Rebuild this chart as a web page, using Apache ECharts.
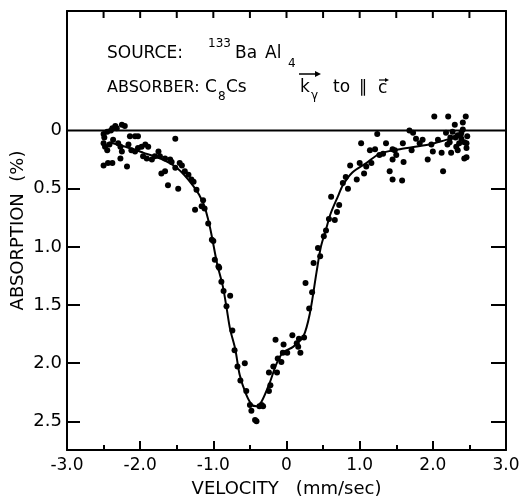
<!DOCTYPE html>
<html>
<head>
<meta charset="utf-8">
<script src="https://cdn.jsdelivr.net/npm/echarts@6.0.0/dist/echarts.min.js"></script>
<style>html,body{margin:0;padding:0;background:#fff;}#chart{width:524px;height:497px;}</style>
</head>
<body>
<div id="chart"></div>
<script>
// Measured points: velocity (mm/sec) and absorption (%)
const velocity = [
-2.50,-2.45,-2.38,-2.34,-2.25,-2.21,-2.50,-2.48,-2.45,-2.50,-2.44,-2.38,-2.30,-2.27,-2.25,-2.27,-2.18,-2.14,-2.07,-2.03,
-2.16,-2.12,-2.07,-2.03,-1.98,-1.93,-1.89,-1.96,-1.91,-1.84,-1.80,-1.75,-1.73,-1.66,-1.59,-1.52,-1.57,-1.52,-1.46,-1.43,
-1.39,-1.34,-1.30,-1.27,-1.23,-1.62,-1.48,-1.71,-1.66,-1.14,-1.16,-1.25,-1.12,-1.07,-1.02,-1.00,-0.98,-0.93,-0.92,-0.89,
-0.86,-0.77,-0.82,-0.74,-0.71,-0.67,-0.57,-0.63,-0.55,-0.50,-0.48,-0.43,-0.41,-0.37,-0.32,-0.34,-0.24,-0.22,-0.24,-0.18,
-0.13,-0.15,-0.07,-0.12,-0.05,-0.04,0.01,0.08,0.14,0.17,0.19,0.16,0.24,0.31,0.26,0.35,0.37,0.43,0.46,0.51,
0.54,0.58,0.66,0.69,0.72,0.61,0.77,0.81,0.84,0.96,0.87,1.00,1.06,1.09,1.16,1.02,1.14,1.21,1.27,1.32,
1.36,1.41,1.45,1.48,1.24,1.45,1.50,1.45,1.60,1.58,1.59,1.68,1.73,1.71,1.77,1.86,1.82,1.93,1.98,2.00,
2.12,2.14,2.07,2.18,2.23,2.27,2.34,2.39,2.43,2.46,2.25,2.34,2.43,2.46,2.36,2.32,2.41,2.02,2.21,2.45,
2.41,2.30,2.31,2.39,2.47,2.46,2.24,2.20,-2.49,-2.42,-2.40,-2.32,-2.37
];
const absorption = [
0.03,0.01,-0.02,-0.04,-0.05,-0.04,0.11,0.14,0.17,0.30,0.28,0.28,0.11,0.14,0.18,0.24,0.31,0.05,0.05,0.05,
0.12,0.17,0.18,0.15,0.14,0.12,0.14,0.22,0.24,0.25,0.22,0.18,0.22,0.24,0.25,0.07,0.27,0.32,0.28,0.30,
0.35,0.38,0.42,0.44,0.51,0.47,0.50,0.37,0.35,0.60,0.65,0.68,0.67,0.80,0.94,0.95,1.11,1.17,1.18,1.30,
1.38,1.42,1.51,1.72,1.89,2.03,2.00,2.15,2.24,2.36,2.41,2.49,2.50,2.37,2.37,2.36,2.24,2.19,2.08,2.03,
2.08,1.80,1.99,1.96,1.91,1.84,1.91,1.76,1.83,1.79,1.91,1.86,1.78,1.53,1.31,1.39,1.14,1.01,1.08,0.91,
0.86,0.76,0.77,0.70,0.64,0.57,0.45,0.40,0.50,0.42,0.30,0.28,0.37,0.31,0.28,0.11,0.17,0.16,0.21,0.20,
0.11,0.35,0.42,0.17,0.03,0.16,0.21,0.25,0.27,0.43,0.11,0.00,0.02,0.17,0.07,0.08,0.11,0.25,0.12,0.18,
0.19,0.35,0.08,0.02,0.10,0.01,0.04,0.07,0.10,0.15,0.19,0.17,0.24,0.23,0.11,0.14,-0.01,-0.12,-0.12,-0.12,
-0.07,-0.05,0.06,0.02,0.05,0.11,0.06,0.12,0.06,0.12,0.00,-0.02,0.08
];
// Fitted curve
const fitVelocity = [-2.42,-2.20,-1.96,-1.73,-1.50,-1.27,-1.14,-1.05,-0.95,-0.87,-0.82,-0.77,-0.70,-0.64,-0.55,-0.47,-0.41,-0.34,-0.23,-0.14,-0.05,0.09,0.23,0.32,0.41,0.47,0.54,0.60,0.70,0.77,0.90,1.09,1.27,1.55,1.95,2.18,2.42];
const fitAbsorption = [0.10,0.14,0.19,0.24,0.32,0.48,0.62,0.82,1.14,1.34,1.52,1.71,1.88,2.10,2.27,2.36,2.37,2.33,2.17,2.01,1.91,1.86,1.77,1.57,1.22,1.00,0.85,0.72,0.57,0.47,0.36,0.28,0.20,0.16,0.12,0.08,0.04];
// Baseline
const baselineVelocity = [-3.0, 3.0];
const baselineAbsorption = [0, 0];
// Tick labels
const yTickValues = [0, 0.5, 1.0, 1.5, 2.0, 2.5];
const yTickLabels = ['0', '0.5', '1.0', '1.5', '2.0', '2.5'];
const xTickValues = [-3, -2, -1, 0, 1, 2, 3];
const xTickLabels = ['-3.0', '-2.0', '-1.0', '0', '1.0', '2.0', '3.0'];
const topTickValues = [-2.5, -2.0, -1.5, -1.0, -0.5, 0, 0.5, 1.0, 1.5, 2.0, 2.5];

const FONT = 'DejaVu Sans';
const Y_MIN = -1.028, Y_MAX = 2.747;
const GRID_TOP = 11;
const scatterData = velocity.map((v, i) => [v, absorption[i]]);
const fitData = fitVelocity.map((v, i) => [v, fitAbsorption[i]]);
const baseData = baselineVelocity.map((v, i) => [v, baselineAbsorption[i]]);
const lineStyle = {color: '#000', width: 2};

function txt(text, x, y, size) {
  return {type: 'text', x: x, y: y, style: {text: text, fill: '#000', font: size + 'px "DejaVu Sans"', verticalAlign: 'middle', align: 'left'}};
}

const textGraphics = [
  txt('SOURCE:', 107, 54, 17),
  txt('133', 208, 44, 12),
  txt('Ba', 235, 54, 17),
  txt('Al', 265, 54, 17),
  txt('4', 288, 64, 12),
  txt('ABSORBER:', 107, 88, 16),
  txt('C', 205, 88, 17),
  txt('8', 218, 97, 12),
  txt('Cs', 226, 88, 17),
  txt('k', 300, 88, 17),
  txt('γ', 311, 96, 12),
  {type: 'line', shape: {x1: 299, y1: 74, x2: 318, y2: 74}, style: {stroke: '#000', lineWidth: 1.5}},
  {type: 'polygon', shape: {points: [[321, 74], [315, 71], [315, 77]]}, style: {fill: '#000'}},
  txt('to', 333, 88, 17),
  txt('∥', 359, 88, 17),
  txt('c', 378, 89, 17),
  {type: 'line', shape: {x1: 379, y1: 80, x2: 387, y2: 80}, style: {stroke: '#000', lineWidth: 1.2}},
  {type: 'polygon', shape: {points: [[389, 80], [385, 78], [385, 82]]}, style: {fill: '#000'}}
];

const chart = echarts.init(document.getElementById('chart'), null, {renderer: 'canvas'});
chart.setOption({
  animation: false,
  backgroundColor: '#fff',
  grid: {left: 67, right: 18, top: GRID_TOP, bottom: 47, containLabel: false, outerBoundsMode: 'none'},
  xAxis: [{
    type: 'value', position: 'bottom', min: -3, max: 3, interval: 1,
    axisLine: {show: true, onZero: false, lineStyle: lineStyle},
    axisTick: {show: true, inside: true, length: 9, lineStyle: lineStyle},
    minorTick: {show: true, splitNumber: 2, length: 5, lineStyle: {color: '#000', width: 2}},
    splitLine: {show: false},
    axisLabel: {
      margin: 7, color: '#000', fontFamily: FONT, fontSize: 17, showMinLabel: true, showMaxLabel: true,
      formatter: v => { const i = xTickValues.findIndex(t => Math.abs(t - v) < 1e-6); return i >= 0 ? xTickLabels[i] : ''; }
    },
    name: 'VELOCITY   (mm/sec)', nameLocation: 'middle', nameGap: 30, nameMoveOverlap: false,
    nameTextStyle: {color: '#000', fontFamily: FONT, fontSize: 18}
  }, {
    type: 'value', position: 'top', min: -3, max: 3, interval: 0.5,
    axisLine: {show: true, onZero: false, lineStyle: lineStyle},
    axisTick: {show: false}, axisLabel: {show: false}, splitLine: {show: false}
  }],
  yAxis: [{
    type: 'value', position: 'left', inverse: true, min: Y_MIN, max: Y_MAX,
    axisLine: {show: true, onZero: false, lineStyle: lineStyle},
    axisTick: {show: true, inside: true, length: 13, lineStyle: lineStyle, customValues: yTickValues.slice(1)},
    splitLine: {show: false},
    axisLabel: {
      margin: 5, color: '#000', fontFamily: FONT, fontSize: 18, customValues: yTickValues,
      formatter: v => { const i = yTickValues.findIndex(t => Math.abs(t - v) < 1e-6); return i >= 0 ? yTickLabels[i] : ''; }
    },
    name: 'ABSORPTION  (%)', nameLocation: 'middle', nameGap: 40, nameMoveOverlap: false,
    nameTextStyle: {color: '#000', fontFamily: FONT, fontSize: 18}
  }, {
    type: 'value', position: 'right', inverse: true, min: Y_MIN, max: Y_MAX,
    axisLine: {show: true, onZero: false, lineStyle: lineStyle},
    axisTick: {show: true, inside: true, length: 15, lineStyle: lineStyle, customValues: yTickValues.slice(1)},
    axisLabel: {show: false}, splitLine: {show: false}
  }],
  series: [{
    type: 'line', data: baseData, xAxisIndex: 0, yAxisIndex: 0, symbol: 'none',
    lineStyle: {color: '#000', width: 2}, silent: true
  }, {
    type: 'line', data: fitData, xAxisIndex: 0, yAxisIndex: 0, symbol: 'none', smooth: 0.3,
    lineStyle: {color: '#000', width: 2}, silent: true
  }, {
    type: 'scatter', data: scatterData, xAxisIndex: 0, yAxisIndex: 0,
    symbol: 'circle', symbolSize: 6, itemStyle: {color: '#000', opacity: 1}
  }],
  graphic: textGraphics
});

// Tick marks on the top frame, positioned through the x-axis scale
const topTicks = topTickValues.map(v => {
  const x = chart.convertToPixel({xAxisIndex: 0}, v);
  return {type: 'line', z: 100, shape: {x1: x, y1: GRID_TOP, x2: x, y2: GRID_TOP + 7}, style: {stroke: '#000', lineWidth: 2}};
});
chart.setOption({graphic: textGraphics.concat(topTicks)});
</script>
</body>
</html>
